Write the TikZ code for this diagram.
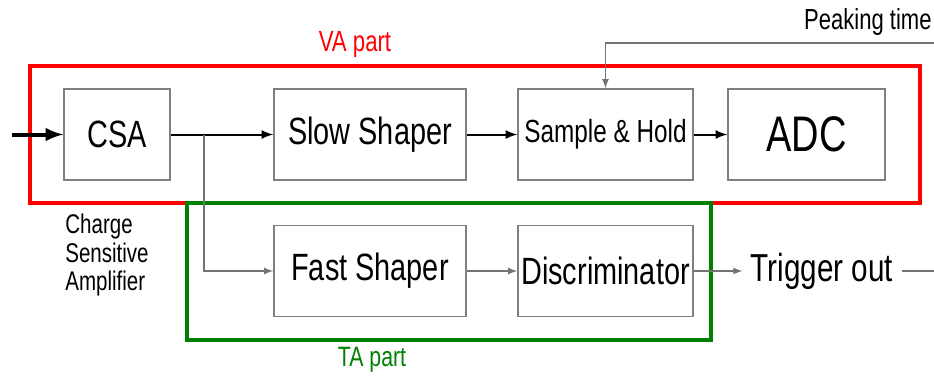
\documentclass[tikz,border=0pt]{standalone}
\usepackage{fontspec}
\setmainfont{Liberation Sans}[FakeStretch=0.76]
\usepackage{tikz}
\usetikzlibrary{arrows,positioning}
\definecolor{tagreen}{RGB}{0,128,0}

\begin{document}
\begin{tikzpicture}[x=0.5pt, y=-0.5pt,
    block/.style={draw=gray, line width=0.75pt, inner sep=0pt, minimum height=45.5pt},
    sig/.style={->, black, line width=1pt, >=latex},
    thinsig/.style={->, gray!90!black, line width=0.6pt, >=latex}]
\useasboundingbox (0,0) rectangle (934,377);

% blocks of the readout chain
\node[block, minimum width=53pt, font=\fontsize{19}{22}\selectfont] (CSA) at (117,134.5) {CSA};
\node[block, minimum width=96pt, font=\fontsize{19}{22}\selectfont] (SS) at (370,134.5) {Slow Shaper};
\node[block, minimum width=87.5pt, font=\fontsize{16}{19}\selectfont] (SH) at (605.5,134.5) {Sample \& Hold};
\node[block, minimum width=78.5pt, font=\fontsize{25}{29}\selectfont] (ADC) at (806.5,134.5) {ADC};
\node[block, minimum width=96pt, font=\fontsize{19}{22}\selectfont] (FS) at (370,271) {Fast Shaper};
\node[block, minimum width=87.5pt, font=\fontsize{19}{22}\selectfont] (DI) at (605.5,271) {Discriminator};
\node[font=\fontsize{19.5}{22}\selectfont, inner sep=4pt] (TO) at (822,271) {Trigger out};
\node[font=\fontsize{14.5}{17}\selectfont, anchor=east, inner sep=1pt] (PT) at (934,22) {Peaking time};
\node[font=\fontsize{13.5}{14.25}\selectfont, align=left, anchor=north west, inner sep=0pt] (CSAtxt) at (65,214) {Charge\\Sensitive\\Amplifier};

% part frames
\draw[red, line width=2pt] (30,66) rectangle (920,203);
\draw[tagreen, line width=1.6pt] (187,203) rectangle (711,340);
\node[red, font=\fontsize{14.6}{17}\selectfont] (VA) at (355,44) {VA part};
\node[tagreen, font=\fontsize{14}{17}\selectfont] (TA) at (372,360) {TA part};

% signal flow
\coordinate (in) at (12,134.5);
\coordinate (br) at (204,134.5);
\coordinate (pk) at (934,43);
\coordinate (out) at (934,271);
\draw[->, line width=2pt, >=latex] (in) -- (CSA);
\draw[sig] (CSA) -- (SS);
\draw[sig] (SS) -- (SH);
\draw[sig] (SH) -- (ADC);
\draw[thinsig] (br) |- (FS);
\draw[thinsig] (FS) -- (DI);
\draw[thinsig] (DI) -- (TO);
\draw[gray!90!black, line width=0.6pt] (TO) -- (out);
\draw[thinsig] (pk) -| (SH);
\end{tikzpicture}
\end{document}
